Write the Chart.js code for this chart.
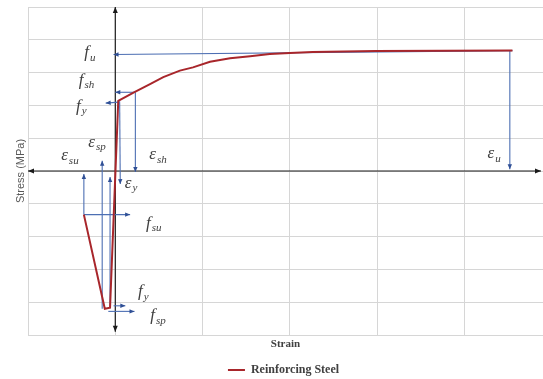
<!DOCTYPE html><html lang="en">
<head>
  <meta charset="UTF-8">
  <title>Reinforcing Steel</title>
  <script src="https://cdn.jsdelivr.net/npm/chart.js"></script>
  <style>
    body { margin: 0; background: #fff; }
    #wrap { width: 543px; height: 379px; }
  </style>
</head>
<body>
<div id="wrap"><canvas id="steelChart" width="543" height="379"></canvas></div>
<script>
// stress-strain curve (strain in arbitrary units, stress in MPa)
const strain = [-0.36, -0.12, -0.06, 0.034, 0.214, 0.398, 0.55, 0.74, 0.89, 1.085, 1.315, 1.545, 1.77, 2.0, 2.26, 2.98, 4.55];
const stress = [-133, -420, -417, 214, 240, 265, 286, 306, 316, 333, 344, 350, 357, 360, 363, 366, 367];

// blue guide arrows: start -> end (head at end)
const guideX0 = [4.55, 4.52, 0.22, 0.23, 0.04, 0.05, -0.15, -0.06, -0.36, -0.36, -0.02, -0.08];
const guideY0 = [367, 367, 240, 240, 210, 213, -420, -416, -133, -133, -411, -428];
const guideX1 = [-0.02, 4.52, 0.0, 0.23, -0.11, 0.057, -0.15, -0.06, -0.36, 0.17, 0.115, 0.22];
const guideY1 = [355, 5, 240, -3, 207, -40, 31, -18, -9, -133, -411, -428];

// symbol labels
const labelMain = ['f', 'f', 'f', 'ε', 'ε', 'ε', 'ε', 'f', 'f', 'f', 'ε'];
const labelSub = ['u', 'sh', 'y', 'sp', 'su', 'sh', 'y', 'su', 'y', 'sp', 'u'];
const labelX = [-0.29, -0.33, -0.39, -0.21, -0.52, 0.49, 0.18, 0.44, 0.32, 0.49, 4.34];
const labelY = [357, 274, 195, 85, 43, 46, -40, -162, -372, -445, 49];

const points = strain.map((s, i) => ({ x: s, y: stress[i] }));

function arrowHead(ctx, x0, y0, x1, y1, len, wid) {
  const a = Math.atan2(y1 - y0, x1 - x0);
  const c = Math.cos(a), s = Math.sin(a);
  ctx.beginPath();
  ctx.moveTo(x1, y1);
  ctx.lineTo(x1 - len * c + wid * s, y1 - len * s - wid * c);
  ctx.lineTo(x1 - len * c - wid * s, y1 - len * s + wid * c);
  ctx.closePath();
  ctx.fill();
}

function arrow(ctx, x0, y0, x1, y1, len, wid) {
  ctx.beginPath();
  ctx.moveTo(x0, y0);
  ctx.lineTo(x1, y1);
  ctx.stroke();
  arrowHead(ctx, x0, y0, x1, y1, len, wid);
}

const guides = {
  id: 'guides',
  beforeDatasetsDraw(chart) {
    const ctx = chart.ctx, xs = chart.scales.x, ys = chart.scales.y;
    ctx.save();
    // black axes through the origin
    ctx.strokeStyle = '#1a1a1a';
    ctx.fillStyle = '#1a1a1a';
    ctx.lineWidth = 1.2;
    const ox = xs.getPixelForValue(0), oy = ys.getPixelForValue(0);
    const xl = xs.getPixelForValue(xs.min), xr = xs.getPixelForValue(xs.max) - 2;
    const yt = ys.getPixelForValue(ys.max), yb = ys.getPixelForValue(-490);
    arrow(ctx, xr, oy, xl, oy, 6, 2.5);
    arrowHead(ctx, xl, oy, xr, oy, 6, 2.5);
    arrow(ctx, ox, yb, ox, yt, 6, 2.5);
    arrowHead(ctx, ox, yt, ox, yb, 6, 2.5);
    // blue guides
    ctx.strokeStyle = '#4d6fb3';
    ctx.fillStyle = '#2f4f95';
    ctx.lineWidth = 1.1;
    guideX0.forEach((gx, i) => {
      arrow(ctx,
        xs.getPixelForValue(gx), ys.getPixelForValue(guideY0[i]),
        xs.getPixelForValue(guideX1[i]), ys.getPixelForValue(guideY1[i]), 5, 2.2);
    });
    ctx.restore();
  },
  afterDatasetsDraw(chart) {
    const ctx = chart.ctx, xs = chart.scales.x, ys = chart.scales.y;
    ctx.save();
    ctx.fillStyle = '#404040';
    ctx.textBaseline = 'middle';
    ctx.textAlign = 'left';
    labelMain.forEach((m, i) => {
      const mainFont = 'italic 17px "Liberation Serif", serif';
      const subFont = 'italic 11px "Liberation Serif", serif';
      ctx.font = mainFont;
      const wm = ctx.measureText(m).width;
      ctx.font = subFont;
      const ws = ctx.measureText(labelSub[i]).width;
      const cx = xs.getPixelForValue(labelX[i]);
      const cy = ys.getPixelForValue(labelY[i]);
      const left = cx - (wm + ws + 1) / 2;
      ctx.font = mainFont;
      ctx.fillText(m, left, cy - 1);
      ctx.font = subFont;
      ctx.fillText(labelSub[i], left + wm + 1, cy + 4);
    });
    ctx.restore();
  },
  afterLayout(chart) {
    // the legend sits a little right of centre in the original
    chart.legend.left += 12;
    chart.legend.right += 12;
  }
};

new Chart(document.getElementById('steelChart'), {
  type: 'line',
  data: {
    datasets: [{
      label: 'Reinforcing Steel',
      data: points,
      borderColor: '#a8262b',
      backgroundColor: '#a8262b',
      borderWidth: 2,
      pointRadius: 0,
      tension: 0,
      fill: false
    }]
  },
  options: {
    responsive: false,
    animation: false,
    layout: { padding: { top: 7, right: 0, bottom: -7, left: 0 } },
    scales: {
      x: {
        type: 'linear',
        min: -1,
        max: 4.9,
        ticks: { display: false, stepSize: 1 },
        grid: { color: '#d6d6d6', lineWidth: 1, drawTicks: false },
        border: { display: true, color: '#d6d6d6' },
        title: {
          display: true,
          text: 'Strain',
          color: '#404040',
          font: { family: '"Liberation Serif", serif', size: 11, weight: 'bold' },
          padding: { top: 0, bottom: 3 }
        },
        afterFit(scale) { scale.height = 19; }
      },
      y: {
        min: -500,
        max: 500,
        ticks: { display: false, stepSize: 100 },
        grid: { color: '#d6d6d6', lineWidth: 1, drawTicks: false },
        border: { display: true, color: '#d6d6d6' },
        title: {
          display: true,
          text: 'Stress (MPa)',
          color: '#595959',
          font: { family: '"Liberation Sans", sans-serif', size: 11 },
          padding: { top: 14, bottom: 0 }
        },
        afterFit(scale) { scale.width = 28; }
      }
    },
    plugins: {
      legend: {
        position: 'bottom',
        labels: {
          usePointStyle: true,
          pointStyle: 'line',
          pointStyleWidth: 17,
          color: '#404040',
          font: { family: '"Liberation Serif", serif', size: 12, weight: 'bold' }
        }
      },
      tooltip: { enabled: false }
    }
  },
  plugins: [guides]
});
</script>
</body>
</html>
